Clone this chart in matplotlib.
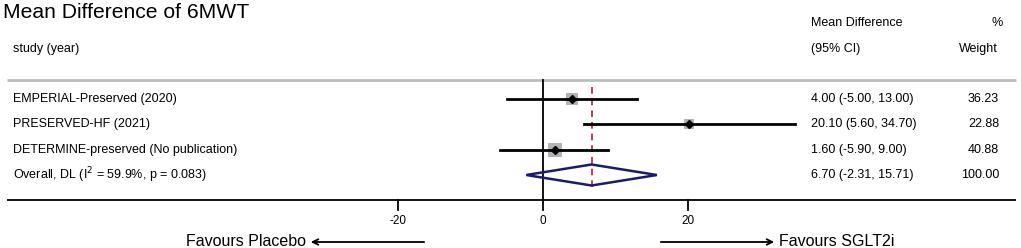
import matplotlib
matplotlib.use("Agg")
import matplotlib.pyplot as plt
from matplotlib.patches import Polygon
import numpy as np

plt.rcParams['font.family'] = ['Liberation Sans', 'DejaVu Sans']

# data
studies = ['EMPERIAL-Preserved (2020)', 'PRESERVED-HF (2021)', 'DETERMINE-preserved (No publication)']
md = [4.00, 20.10, 1.60]
lo = [-5.00, 5.60, -5.90]
hi = [13.00, 34.70, 9.00]
weights = [36.23, 22.88, 40.88]
overall_label = 'Overall, DL (I$^{2}$ = 59.9%, p = 0.083)'
overall = [6.70, -2.31, 15.71]
overall_weight = 100.00
xticks = [-20, 0, 20]

# layout in pixels: x=0 at px 543, 7.25 px per unit
X0_PX = 543
PX_PER_UNIT = 7.25
W, H = 1021, 248


def px2x(px):
    return (px - X0_PX) / PX_PER_UNIT


fig = plt.figure(figsize=(W / 100, H / 100), dpi=100)
ax = fig.add_axes([0, 0, 1, 1])
ax.set_xlim(px2x(0), px2x(W))
ax.set_ylim(H, 0)
ax.axis('off')

fs = 9
row_y = [99, 124, 150, 175]

# title and headers
ax.text(px2x(3), 13, 'Mean Difference of 6MWT', fontsize=15.2, va='center', ha='left')
ax.text(px2x(13), 49, 'study (year)', fontsize=fs, va='center')
ax.text(px2x(811), 23, 'Mean Difference', fontsize=fs, va='center')
ax.text(px2x(811), 49, '(95% CI)', fontsize=fs, va='center')
ax.text(px2x(1003), 23, '%', fontsize=fs, va='center', ha='right')
ax.text(px2x(998), 49, 'Weight', fontsize=fs, va='center', ha='right')

# separator lines
ax.plot([px2x(7), px2x(1016)], [80, 80], color='#bdbdbd', lw=2, solid_capstyle='butt')
ax.plot([px2x(7), px2x(1016)], [200, 200], color='black', lw=1.3, solid_capstyle='butt')

# null line and overall line
ax.plot([0, 0], [80, 200], color='black', lw=1.3)
ax.plot([overall[0], overall[0]], [87, 188], color='#a3282d', lw=1.2, dashes=(4, 3))

# studies
for i, name in enumerate(studies):
    y = row_y[i]
    ax.text(px2x(13), y, name, fontsize=fs, va='center')
    ax.plot([lo[i], hi[i]], [y, y], color='black', lw=2, zorder=3)
    side = 2.05 * np.sqrt(weights[i]) * 0.72
    ax.scatter([md[i]], [y], marker='s', s=side ** 2, color='#b3b3b3', zorder=2, linewidths=0)
    ax.plot([md[i]], [y], marker='D', color='black', markersize=4.5, zorder=4)
    ci = f'{md[i]:.2f} ({lo[i]:.2f}, {hi[i]:.2f})'
    ax.text(px2x(811), y, ci, fontsize=fs, va='center')
    ax.text(px2x(999), y, f'{weights[i]:.2f}', fontsize=fs, va='center', ha='right')

# overall diamond
y = row_y[3]
ax.text(px2x(13), y, overall_label, fontsize=fs, va='center')
diamond = Polygon([(overall[1], y), (overall[0], y - 10.5), (overall[2], y), (overall[0], y + 10.5)],
                  closed=True, fill=False, edgecolor='#1b1b6b', lw=1.8, zorder=3)
ax.add_patch(diamond)
ax.text(px2x(811), y, f'{overall[0]:.2f} ({overall[1]:.2f}, {overall[2]:.2f})', fontsize=fs, va='center')
ax.text(px2x(999), y, f'{overall_weight:.2f}', fontsize=fs, va='center', ha='right')

# axis ticks
for t in xticks:
    ax.plot([t, t], [200, 210], color='black', lw=1.3)
    ax.text(t, 221, f'{t}', fontsize=8.5, ha='center', va='center')

# favours labels
ax.text(px2x(306), 242, 'Favours Placebo', fontsize=11.5, ha='right', va='center')
ax.annotate('', xy=(px2x(308), 242), xytext=(px2x(427), 242),
            arrowprops=dict(arrowstyle='->', lw=1.3, color='black'))
ax.annotate('', xy=(px2x(777), 242), xytext=(px2x(658), 242),
            arrowprops=dict(arrowstyle='->', lw=1.3, color='black'))
ax.text(px2x(779), 242, 'Favours SGLT2i', fontsize=11.5, ha='left', va='center')

fig.savefig('out.png', dpi=100)
